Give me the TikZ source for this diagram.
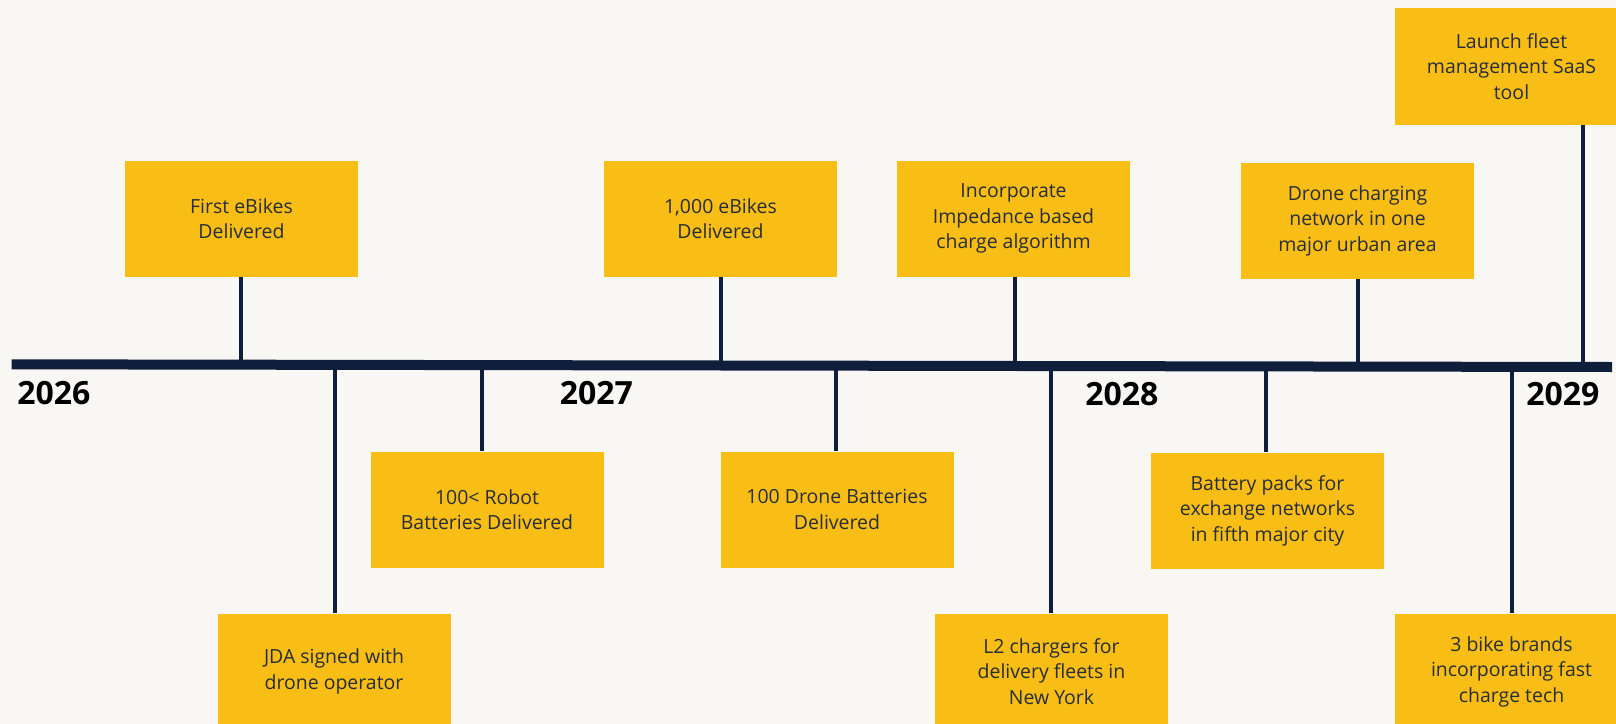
\documentclass[tikz,border=0pt]{standalone}
\usepackage{fontspec}
\setmainfont{Open Sans}
\definecolor{bgc}{HTML}{F8F7F4}
\definecolor{boxc}{HTML}{F8BE16}
\definecolor{navy}{HTML}{0F1F3B}
\definecolor{txtc}{HTML}{272D38}
\begin{document}
\begin{tikzpicture}[x=0.75pt,y=-0.75pt,
  mbox/.style={fill=boxc,draw=none,minimum width=174.75pt,minimum height=87pt,
    inner sep=0pt,align=center,text=txtc,
    font=\fontsize{14.6}{19.1}\selectfont},
  conn/.style={draw=navy,line width=3pt},
  yearlab/.style={anchor=west,inner sep=0pt,text=black,
    font=\fontsize{24}{28}\selectfont\bfseries}]
\useasboundingbox (0,0) rectangle (1616,724);
\clip (0,0) rectangle (1616,724);
\fill[bgc] (0,0) rectangle (1616,724);
% timeline end points
\coordinate (tlA) at (11.7,364.3);
\coordinate (tlB) at (1612,367);
% boxes
\node[mbox] (b1) at (241.5,218.5) {\raisebox{-2pt}{\parbox{170pt}{\centering First eBikes\\Delivered}}};
\node[mbox] (b2) at (334,671.5) {\raisebox{-2pt}{\parbox{170pt}{\centering JDA signed with\\drone operator}}};
\node[mbox] (b3) at (487,509.5) {\raisebox{-2pt}{\parbox{170pt}{\centering 100< Robot\\Batteries Delivered}}};
\node[mbox] (b4) at (720.5,218.5) {\raisebox{-2pt}{\parbox{170pt}{\centering 1,000 eBikes\\Delivered}}};
\node[mbox] (b5) at (837,509.5) {\raisebox{-2pt}{\parbox{170pt}{\centering 100 Drone Batteries\\Delivered}}};
\node[mbox] (b6) at (1013.5,218.5) {\raisebox{-2pt}{\parbox{170pt}{\centering Incorporate\\Impedance based\\charge algorithm}}};
\node[mbox] (b7) at (1051.5,671.5) {\raisebox{-2pt}{\parbox{170pt}{\centering L2 chargers for\\delivery fleets in\\New York}}};
\node[mbox] (b8) at (1267.5,510.5) {\raisebox{-2pt}{\parbox{170pt}{\centering Battery packs for\\exchange networks\\in fifth major city}}};
\node[mbox] (b9) at (1357.5,220.5) {\raisebox{-2pt}{\parbox{170pt}{\centering Drone charging\\network in one\\major urban area}}};
\node[mbox] (b10) at (1511.5,66.5) {\raisebox{-2pt}{\parbox{170pt}{\centering Launch fleet\\management SaaS\\tool}}};
\node[mbox] (b11) at (1511.5,671.5) {\raisebox{-2pt}{\parbox{170pt}{\centering 3 bike brands\\incorporating fast\\charge tech}}};
% timeline attachment points
\coordinate (t1) at (241,365);
\coordinate (t2) at (335,365);
\coordinate (t3) at (482,365);
\coordinate (t4) at (720.5,365.5);
\coordinate (t5) at (836,365.5);
\coordinate (t6) at (1014.7,366);
\coordinate (t7) at (1051,366);
\coordinate (t8) at (1266,366.5);
\coordinate (t9) at (1358,366.5);
\coordinate (t10) at (1583,367);
\coordinate (t11) at (1512,367);
% connectors from boxes above the timeline
\foreach \i in {1,4,6,9,10}{
  \draw[conn] (b\i.south -| t\i) -- (t\i);
}
% connectors to boxes below the timeline
\foreach \i in {2,3,5,7,8,11}{
  \draw[conn] (b\i.north -| t\i) -- (t\i);
}
% timeline
\draw[navy,line width=7.5pt] (tlA) -- (tlB);
% years
\node[yearlab] (y26) at (17,393) {2026};
\node[yearlab] (y27) at (559.5,393.5) {2027};
\node[yearlab] (y28) at (1085,394) {2028};
\node[yearlab] (y29) at (1526,394.5) {2029};
\end{tikzpicture}
\end{document}
